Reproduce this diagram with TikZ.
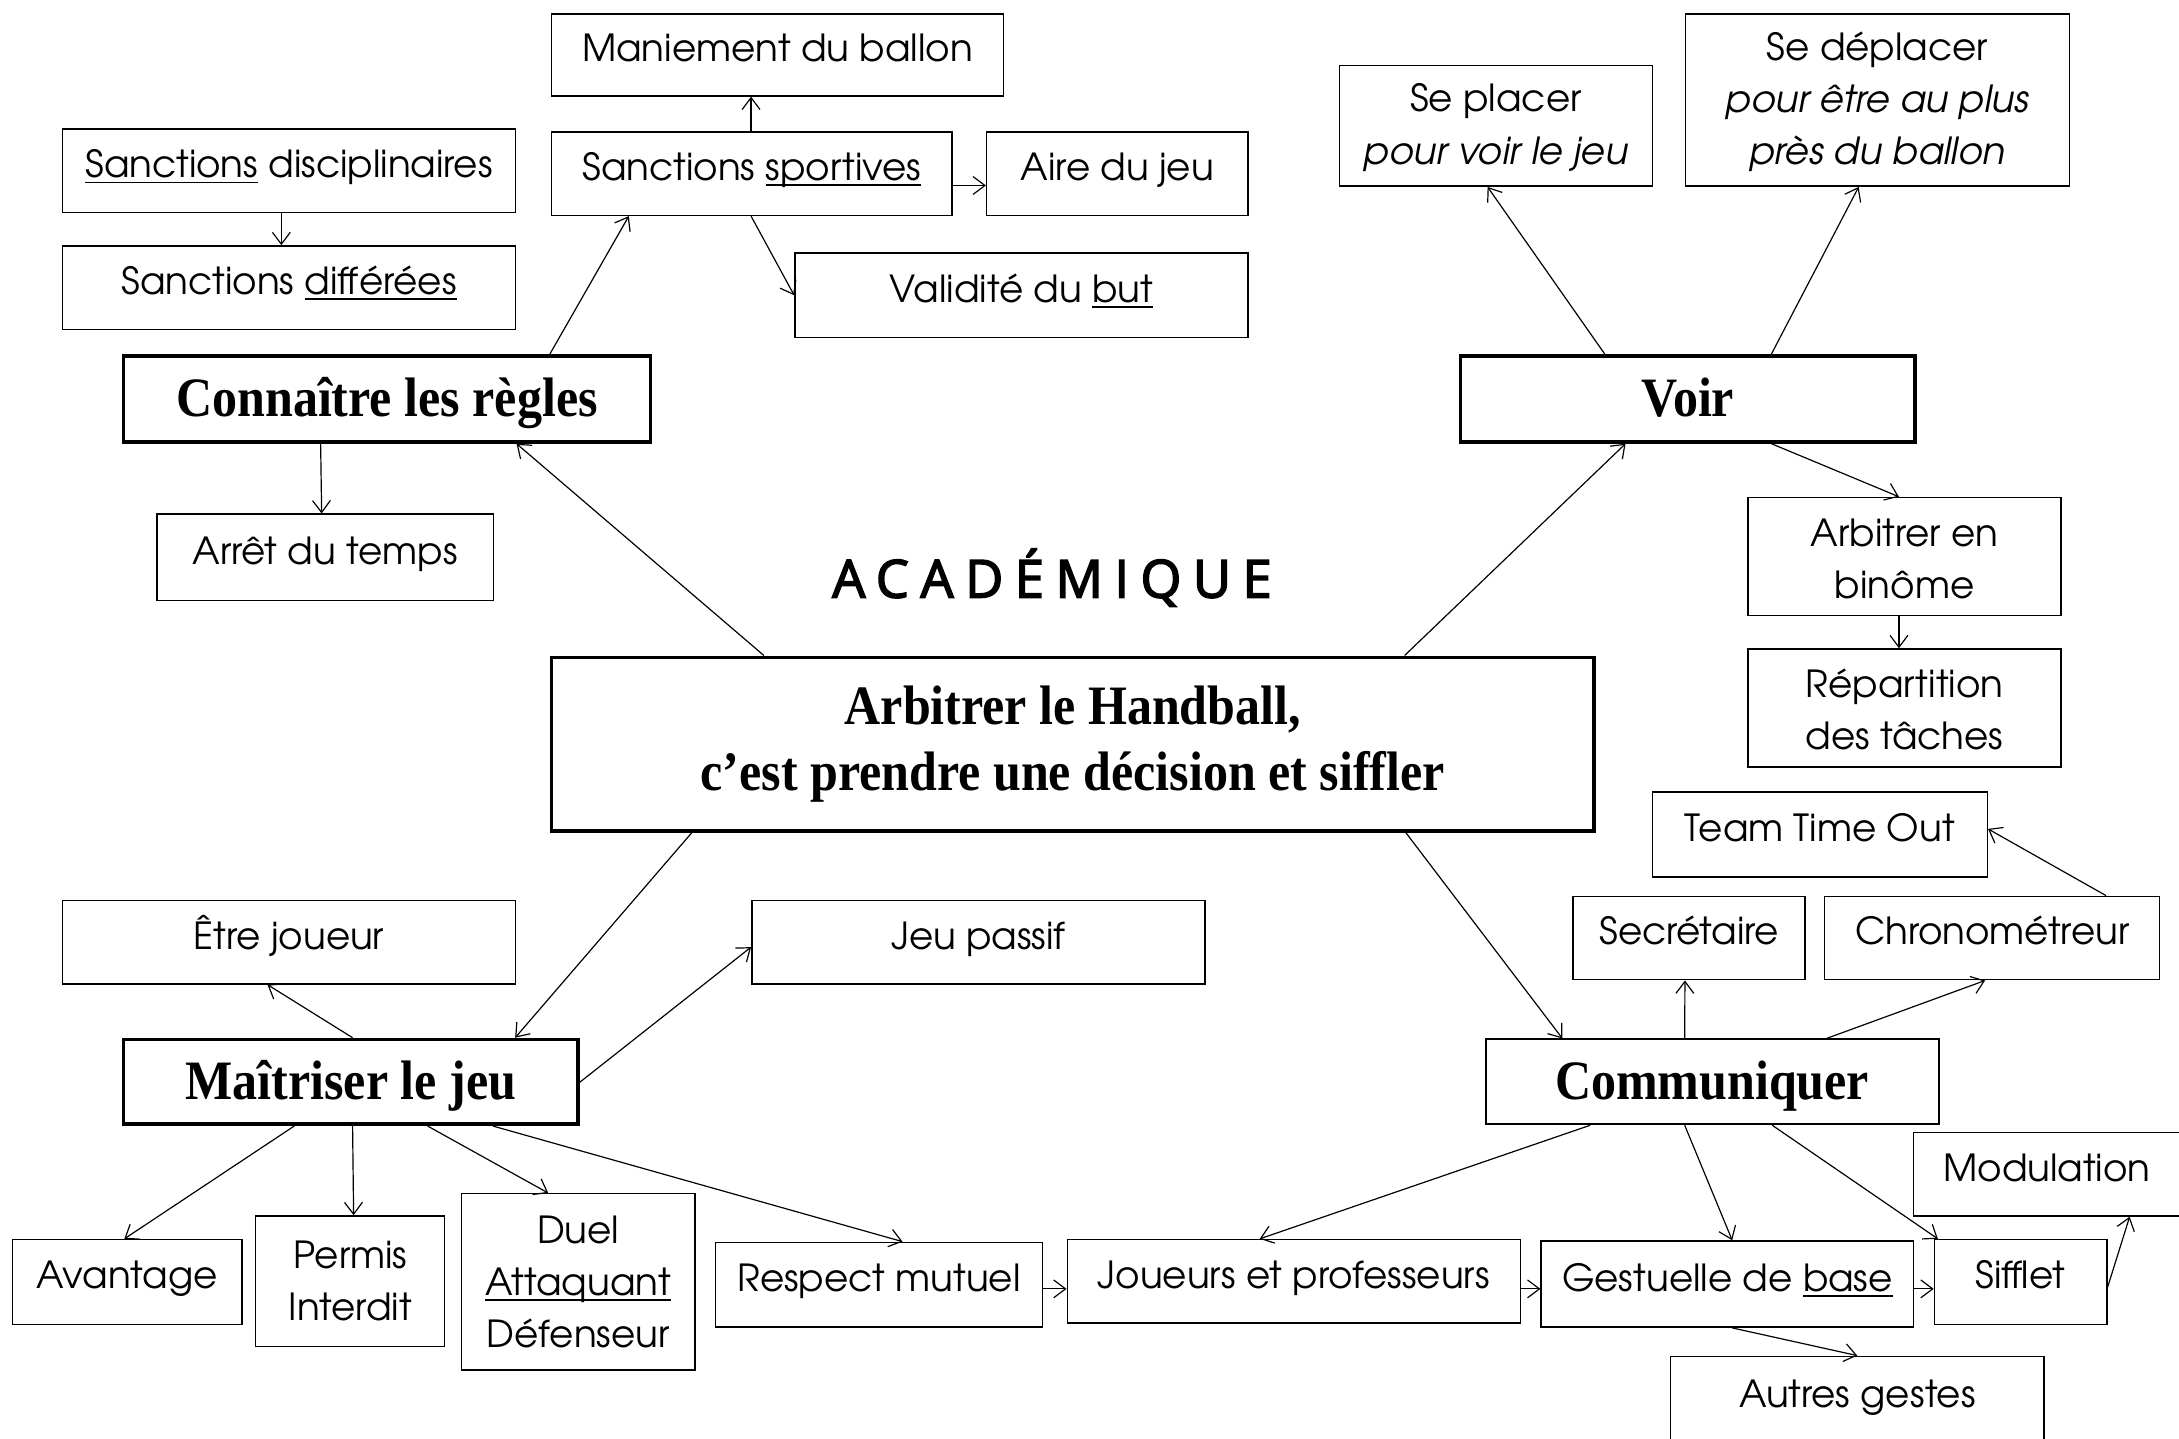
\documentclass[tikz,border=0pt]{standalone}
\usepackage{fontspec}
\setmainfont{texgyreadventor}[Extension=.otf, UprightFont=*-regular, ItalicFont=*-italic, BoldFont=*-bold, BoldItalicFont=*-bolditalic]
\newfontfamily\headfont{Liberation Serif}[FakeStretch=0.9]
\newfontfamily\acadfont{Open Sans}[LetterSpace=22, FakeBold=3]
\usetikzlibrary{arrows.meta,calc}
\newcommand{\bodyfs}{\fontsize{18.8}{26.3}\selectfont}
\newcommand{\headfs}{\headfont\bfseries\fontsize{28}{33.6}\selectfont}
\newcommand{\ulx}[1]{\leavevmode\setbox0=\hbox{#1}\rlap{\rule[-2.8pt]{\wd0}{0.9pt}}\box0\relax}
% #1 style, #2 name, #3 x1, #4 y1, #5 x2, #6 y2, #7 text
\newcommand{\boxnode}[7]{%
  \pgfmathsetmacro\bcx{(#3+#5)/2}\pgfmathsetmacro\bcy{(#4+#6)/2}%
  \pgfmathsetmacro\bww{(#5-#3)*0.7}\pgfmathsetmacro\bhh{(#6-#4)*0.7}%
  \node[#1, minimum width=\bww pt, minimum height=\bhh pt] (#2) at (\bcx,\bcy) {#7};}
\tikzset{
  bx/.style={draw, line width=0.75pt, inner sep=0pt, align=center, font=\bodyfs},
  one/.style={text height=13pt, text depth=6pt},
  hbx/.style={draw, line width=1.8pt, inner sep=0pt, align=center, font=\headfs},
  hone/.style={text height=20pt, text depth=2pt},
  arr/.style={-{Straight Barb[length=6pt,width=9pt]}, line width=0.6pt},
}
\begin{document}
\begin{tikzpicture}[x=0.7pt,y=-0.7pt]
\useasboundingbox (0,0) rectangle (1568,1035);
\fill[white] (0,0) rectangle (1568,1035);
% top-left cluster
\boxnode{bx,one}{manie}{397}{10}{722}{69}{Maniement du ballon}
\boxnode{bx,one}{sdisc}{45}{93}{371}{153}{\ulx{Sanctions} disciplinaires}
\boxnode{bx,one}{sdiff}{45}{177}{371}{237}{Sanctions \ulx{différées}}
\boxnode{bx,one}{sport}{397}{95}{685}{155}{Sanctions \ulx{sportives}}
\boxnode{bx,one}{aire}{710}{95}{898}{155}{Aire du jeu}
\boxnode{bx,one}{valid}{572}{182}{898}{243}{Validité du \ulx{but}}
\boxnode{hbx,hone}{conn}{89}{256}{468}{318}{Connaître les règles}
\boxnode{bx,one}{arret}{113}{370}{355}{432}{Arrêt du temps}
% title
\node[font=\acadfont\fontsize{26.4}{30}\selectfont, anchor=base] (acad) at (757,430) {ACADÉMIQUE};
% central
\boxnode{hbx}{central}{397}{473}{1147}{598}{Arbitrer le Handball,\\c’est prendre une décision et siffler}
% top-right cluster
\boxnode{hbx,hone}{voir}{1051}{256}{1378}{318}{Voir}
\boxnode{bx}{placer}{964}{47}{1189}{134}{\rule{0pt}{16pt}Se placer\\\textit{pour voir le jeu}}
\boxnode{bx}{deplacer}{1213}{10}{1489}{134}{\rule{0pt}{16pt}Se déplacer\\\textit{pour être au plus}\\\textit{près du ballon}}
\boxnode{bx}{binome}{1258}{358}{1483}{443}{\rule{0pt}{16pt}Arbitrer en\\binôme}
\boxnode{bx}{repart}{1258}{467}{1483}{552}{\rule{0pt}{16pt}Répartition\\des tâches}
% bottom-right cluster
\boxnode{bx,one}{tto}{1189}{570}{1430}{631}{Team Time Out}
\boxnode{bx,one}{secr}{1132}{645}{1299}{705}{Secrétaire}
\boxnode{bx,one}{chrono}{1313}{645}{1554}{705}{Chronométreur}
\boxnode{hbx,hone,line width=1pt}{comm}{1069}{748}{1395}{809}{Communiquer}
\boxnode{bx,one}{modul}{1377}{815}{1569}{875}{Modulation}
\boxnode{bx,one}{sifflet}{1392}{892}{1516}{953}{Sifflet}
\boxnode{bx,one}{gest}{1109}{893}{1377}{955}{Gestuelle de \ulx{base}}
\boxnode{bx,one}{joueurs}{768}{892}{1094}{952}{Joueurs et professeurs}
\boxnode{bx,one}{autres}{1202}{976}{1471}{1040}{Autres gestes}
% bottom-left cluster
\boxnode{bx,one}{etre}{45}{648}{371}{708}{Être joueur}
\boxnode{bx,one}{passif}{541}{648}{867}{708}{Jeu passif}
\boxnode{hbx,hone}{mait}{89}{748}{416}{809}{Maîtriser le jeu}
\boxnode{bx,one}{avant}{9}{892}{174}{953}{Avantage}
\boxnode{bx}{permis}{184}{875}{320}{969}{Permis\\Interdit}
\boxnode{bx}{duel}{332}{859}{500}{986}{Duel\\\ulx{Attaquant}\\Défenseur}
\boxnode{bx,one}{respect}{515}{894}{750}{955}{Respect mutuel}
% connectors
\draw[arr] ($(central.north west)+(154,0)$) -- ($(conn.south west)+(284,0)$);
\draw[arr] ($(central.north west)+(615,0)$) -- ($(voir.south west)+(120,0)$);
\draw[arr] ($(central.south west)+(102,0)$) -- ($(mait.north west)+(283,0)$);
\draw[arr] ($(central.south west)+(616,0)$) -- ($(comm.north west)+(56,0)$);
\draw[arr] ($(conn.north west)+(308,0)$) -- ($(sport.south west)+(56,0)$);
\draw[arr] ($(conn.south west)+(143,0)$) -- ($(arret.north west)+(119,0)$);
\draw[arr] ($(sdisc.south west)+(158,0)$) -- ($(sdiff.north west)+(158,0)$);
\draw[arr] ($(sport.north west)+(144,0)$) -- ($(manie.south west)+(144,0)$);
\draw[arr] ($(sport.north east)+(0,39)$) -- ($(aire.north west)+(0,39)$);
\draw[arr] ($(sport.south west)+(144,0)$) -- ($(valid.north west)+(0,31)$);
\draw[arr] ($(voir.north west)+(105,0)$) -- ($(placer.south west)+(107,0)$);
\draw[arr] ($(voir.north west)+(225,0)$) -- ($(deplacer.south west)+(125,0)$);
\draw[arr] ($(voir.south west)+(225,0)$) -- ($(binome.north west)+(109,0)$);
\draw[arr] ($(binome.south west)+(109,0)$) -- ($(repart.north west)+(109,0)$);
\draw[arr] ($(mait.north west)+(166,0)$) -- ($(etre.south west)+(148,0)$);
\draw[arr] ($(mait.north east)+(0,32)$) -- ($(passif.south west)+(0,-27)$);
\draw[arr] ($(mait.south west)+(124,0)$) -- ($(avant.north west)+(81,0)$);
\draw[arr] ($(mait.south west)+(166,0)$) -- ($(permis.north west)+(71,0)$);
\draw[arr] ($(mait.south west)+(220,0)$) -- ($(duel.north west)+(63,0)$);
\draw[arr] ($(mait.south west)+(267,0)$) -- ($(respect.north west)+(135,0)$);
\draw[arr] ($(respect.north east)+(0,34)$) -- ($(joueurs.north west)+(0,36)$);
\draw[arr] ($(joueurs.north east)+(0,36)$) -- ($(gest.north west)+(0,35)$);
\draw[arr] ($(gest.north east)+(0,35)$) -- ($(sifflet.north west)+(0,36)$);
\draw[arr] ($(comm.north west)+(144,0)$) -- ($(secr.south west)+(81,0)$);
\draw[arr] ($(comm.north west)+(246,0)$) -- ($(chrono.south west)+(116,0)$);
\draw[arr] ($(chrono.north west)+(203,0)$) -- ($(tto.north east)+(0,27)$);
\draw[arr] ($(comm.south west)+(76,0)$) -- ($(joueurs.north west)+(139,0)$);
\draw[arr] ($(comm.south west)+(144,0)$) -- ($(gest.north west)+(138,0)$);
\draw[arr] ($(comm.south west)+(207,0)$) -- ($(sifflet.north west)+(3,0)$);
\draw[arr] ($(sifflet.north east)+(0,35)$) -- ($(modul.south west)+(156,0)$);
\draw[arr] ($(gest.south west)+(138,0)$) -- ($(autres.north west)+(135,0)$);
\end{tikzpicture}
\end{document}
